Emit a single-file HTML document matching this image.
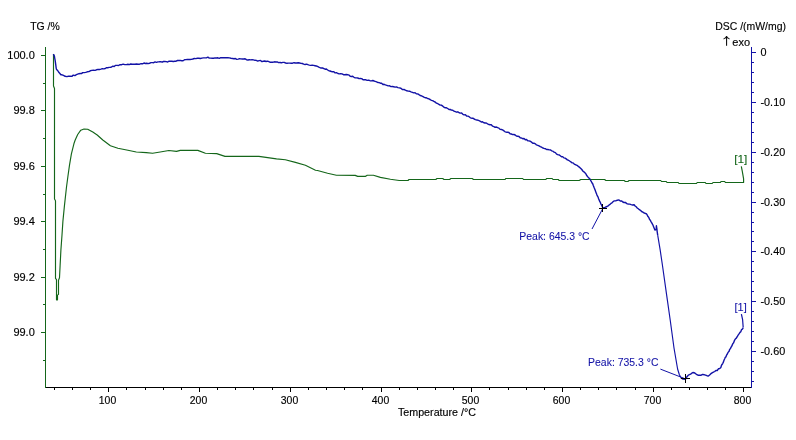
<!DOCTYPE html>
<html><head><meta charset="utf-8"><title>TG / DSC</title>
<style>
html,body{margin:0;padding:0;background:#fff;}
body{width:796px;height:440px;overflow:hidden;}
svg{display:block;}
text{font-family:"Liberation Sans",sans-serif;font-size:11px;}
</style></head><body>
<svg width="796" height="440" viewBox="0 0 796 440">
<rect x="0" y="0" width="796" height="440" fill="#fff"/>
<g shape-rendering="crispEdges" fill="none" stroke-width="1">
<line x1="45.5" y1="47" x2="45.5" y2="388" stroke="#14661a"/>
<line x1="41" y1="55.5" x2="45" y2="55.5" stroke="#14661a"/>
<line x1="43" y1="83.5" x2="45" y2="83.5" stroke="#14661a"/>
<line x1="41" y1="110.5" x2="45" y2="110.5" stroke="#14661a"/>
<line x1="43" y1="138.5" x2="45" y2="138.5" stroke="#14661a"/>
<line x1="41" y1="166.5" x2="45" y2="166.5" stroke="#14661a"/>
<line x1="43" y1="194.5" x2="45" y2="194.5" stroke="#14661a"/>
<line x1="41" y1="221.5" x2="45" y2="221.5" stroke="#14661a"/>
<line x1="43" y1="249.5" x2="45" y2="249.5" stroke="#14661a"/>
<line x1="41" y1="277.5" x2="45" y2="277.5" stroke="#14661a"/>
<line x1="43" y1="304.5" x2="45" y2="304.5" stroke="#14661a"/>
<line x1="41" y1="332.5" x2="45" y2="332.5" stroke="#14661a"/>
<line x1="43" y1="360.5" x2="45" y2="360.5" stroke="#14661a"/>
<line x1="751.5" y1="47" x2="751.5" y2="388" stroke="#1212a6"/>
<line x1="752" y1="52.5" x2="756" y2="52.5" stroke="#1212a6"/>
<line x1="752" y1="62.5" x2="754" y2="62.5" stroke="#1212a6"/>
<line x1="752" y1="72.5" x2="754" y2="72.5" stroke="#1212a6"/>
<line x1="752" y1="82.5" x2="754" y2="82.5" stroke="#1212a6"/>
<line x1="752" y1="92.5" x2="754" y2="92.5" stroke="#1212a6"/>
<line x1="752" y1="102.5" x2="756" y2="102.5" stroke="#1212a6"/>
<line x1="752" y1="112.5" x2="754" y2="112.5" stroke="#1212a6"/>
<line x1="752" y1="122.5" x2="754" y2="122.5" stroke="#1212a6"/>
<line x1="752" y1="132.5" x2="754" y2="132.5" stroke="#1212a6"/>
<line x1="752" y1="142.5" x2="754" y2="142.5" stroke="#1212a6"/>
<line x1="752" y1="152.5" x2="756" y2="152.5" stroke="#1212a6"/>
<line x1="752" y1="162.5" x2="754" y2="162.5" stroke="#1212a6"/>
<line x1="752" y1="172.5" x2="754" y2="172.5" stroke="#1212a6"/>
<line x1="752" y1="182.5" x2="754" y2="182.5" stroke="#1212a6"/>
<line x1="752" y1="192.5" x2="754" y2="192.5" stroke="#1212a6"/>
<line x1="752" y1="202.5" x2="756" y2="202.5" stroke="#1212a6"/>
<line x1="752" y1="212.5" x2="754" y2="212.5" stroke="#1212a6"/>
<line x1="752" y1="222.5" x2="754" y2="222.5" stroke="#1212a6"/>
<line x1="752" y1="231.5" x2="754" y2="231.5" stroke="#1212a6"/>
<line x1="752" y1="241.5" x2="754" y2="241.5" stroke="#1212a6"/>
<line x1="752" y1="251.5" x2="756" y2="251.5" stroke="#1212a6"/>
<line x1="752" y1="261.5" x2="754" y2="261.5" stroke="#1212a6"/>
<line x1="752" y1="271.5" x2="754" y2="271.5" stroke="#1212a6"/>
<line x1="752" y1="281.5" x2="754" y2="281.5" stroke="#1212a6"/>
<line x1="752" y1="291.5" x2="754" y2="291.5" stroke="#1212a6"/>
<line x1="752" y1="301.5" x2="756" y2="301.5" stroke="#1212a6"/>
<line x1="752" y1="311.5" x2="754" y2="311.5" stroke="#1212a6"/>
<line x1="752" y1="321.5" x2="754" y2="321.5" stroke="#1212a6"/>
<line x1="752" y1="331.5" x2="754" y2="331.5" stroke="#1212a6"/>
<line x1="752" y1="341.5" x2="754" y2="341.5" stroke="#1212a6"/>
<line x1="752" y1="351.5" x2="756" y2="351.5" stroke="#1212a6"/>
<line x1="752" y1="361.5" x2="754" y2="361.5" stroke="#1212a6"/>
<line x1="752" y1="371.5" x2="754" y2="371.5" stroke="#1212a6"/>
<line x1="752" y1="381.5" x2="754" y2="381.5" stroke="#1212a6"/>
<line x1="46" y1="387.5" x2="751" y2="387.5" stroke="#000"/>
<line x1="54.5" y1="388" x2="54.5" y2="390" stroke="#000"/>
<line x1="72.5" y1="388" x2="72.5" y2="390" stroke="#000"/>
<line x1="90.5" y1="388" x2="90.5" y2="390" stroke="#000"/>
<line x1="108.5" y1="388" x2="108.5" y2="392" stroke="#000"/>
<line x1="126.5" y1="388" x2="126.5" y2="390" stroke="#000"/>
<line x1="145.5" y1="388" x2="145.5" y2="390" stroke="#000"/>
<line x1="163.5" y1="388" x2="163.5" y2="390" stroke="#000"/>
<line x1="181.5" y1="388" x2="181.5" y2="390" stroke="#000"/>
<line x1="199.5" y1="388" x2="199.5" y2="392" stroke="#000"/>
<line x1="217.5" y1="388" x2="217.5" y2="390" stroke="#000"/>
<line x1="235.5" y1="388" x2="235.5" y2="390" stroke="#000"/>
<line x1="253.5" y1="388" x2="253.5" y2="390" stroke="#000"/>
<line x1="272.5" y1="388" x2="272.5" y2="390" stroke="#000"/>
<line x1="290.5" y1="388" x2="290.5" y2="392" stroke="#000"/>
<line x1="308.5" y1="388" x2="308.5" y2="390" stroke="#000"/>
<line x1="326.5" y1="388" x2="326.5" y2="390" stroke="#000"/>
<line x1="344.5" y1="388" x2="344.5" y2="390" stroke="#000"/>
<line x1="362.5" y1="388" x2="362.5" y2="390" stroke="#000"/>
<line x1="381.5" y1="388" x2="381.5" y2="392" stroke="#000"/>
<line x1="399.5" y1="388" x2="399.5" y2="390" stroke="#000"/>
<line x1="417.5" y1="388" x2="417.5" y2="390" stroke="#000"/>
<line x1="435.5" y1="388" x2="435.5" y2="390" stroke="#000"/>
<line x1="453.5" y1="388" x2="453.5" y2="390" stroke="#000"/>
<line x1="471.5" y1="388" x2="471.5" y2="392" stroke="#000"/>
<line x1="489.5" y1="388" x2="489.5" y2="390" stroke="#000"/>
<line x1="508.5" y1="388" x2="508.5" y2="390" stroke="#000"/>
<line x1="526.5" y1="388" x2="526.5" y2="390" stroke="#000"/>
<line x1="544.5" y1="388" x2="544.5" y2="390" stroke="#000"/>
<line x1="562.5" y1="388" x2="562.5" y2="392" stroke="#000"/>
<line x1="580.5" y1="388" x2="580.5" y2="390" stroke="#000"/>
<line x1="598.5" y1="388" x2="598.5" y2="390" stroke="#000"/>
<line x1="616.5" y1="388" x2="616.5" y2="390" stroke="#000"/>
<line x1="635.5" y1="388" x2="635.5" y2="390" stroke="#000"/>
<line x1="653.5" y1="388" x2="653.5" y2="392" stroke="#000"/>
<line x1="671.5" y1="388" x2="671.5" y2="390" stroke="#000"/>
<line x1="689.5" y1="388" x2="689.5" y2="390" stroke="#000"/>
<line x1="707.5" y1="388" x2="707.5" y2="390" stroke="#000"/>
<line x1="725.5" y1="388" x2="725.5" y2="390" stroke="#000"/>
<line x1="743.5" y1="388" x2="743.5" y2="392" stroke="#000"/>
</g>
<polyline fill="none" stroke="#14661a" stroke-width="1.15" stroke-linejoin="round" points="53.5,54.0 53.5,86.0 54.5,88.5 54.5,140.0 54.5,185.0 54.5,199.0 55.5,200.7 55.5,278.3 56.5,279.6 56.5,299.8 57.5,299.8 57.5,295.1 58.5,294.4 58.5,280.2 59.5,277.7 60.1,265.8 60.9,250.1 62.0,235.0 62.9,221.4 64.5,205.1 66.5,187.0 67.9,176.5 69.5,165.2 71.4,153.8 73.9,143.8 75.2,140.0 77.7,134.5 80.8,130.2 84.0,129.0 87.7,129.2 92.8,132.1 97.2,135.0 102.8,140.0 110.4,145.7 117.9,148.2 127.9,150.3 136.3,152.0 146.3,152.6 152.6,153.3 160.2,152.0 168.9,150.5 176.5,151.4 180.3,150.4 197.8,150.4 205.4,153.3 216.7,153.6 225.0,156.4 258.9,156.4 267.7,157.6 276.5,158.9 285.3,159.8 295.4,162.4 305.4,165.2 315.5,170.2 317.5,170.5 327.6,173.3 336.4,175.2 355.2,175.4 357.7,176.4 365.3,176.4 367.2,175.2 373.4,175.2 380.4,177.4 390.4,179.2 399.2,180.5 408.0,180.5 409.0,179.5 435.8,179.5 437.0,178.5 442.7,178.5 444.0,179.5 449.6,179.5 450.9,178.5 472.2,178.5 473.5,179.5 505.1,179.5 505.7,178.5 522.7,178.5 523.5,179.5 545.9,179.5 546.5,178.5 552.2,178.5 553.0,179.5 558.5,179.5 559.0,180.5 579.2,180.5 580.8,179.5 604.6,179.5 605.9,180.5 624.1,180.5 625.4,181.5 627.9,181.5 629.1,180.5 660.7,180.5 661.5,181.5 666.3,181.5 667.0,182.5 678.3,182.5 679.0,183.5 696.5,183.5 697.2,182.5 705.3,182.5 706.0,183.5 712.2,183.5 713.0,182.5 720.4,182.5 721.0,181.5 724.7,181.5 725.4,182.5 743.6,182.5 743.6,178.9 742.3,171.4 741.3,166.4"/>
<polyline fill="none" stroke="#1212a6" stroke-width="1.4" stroke-linejoin="round" points="53.4,54.1 54.4,56.1 54.7,58.0 55.0,59.7 55.3,61.4 55.5,62.9 55.7,64.4 55.9,65.9 56.1,67.4 56.3,68.9 57.1,70.1 58.0,71.0 58.8,72.3 59.9,73.5 60.9,74.7 62.0,74.8 63.5,75.4 65.1,76.3 66.8,76.6 68.5,76.3 70.2,76.1 71.8,76.4 73.3,75.1 74.9,75.6 76.4,74.7 77.7,74.1 78.9,73.7 80.2,73.5 81.4,73.6 82.7,72.6 84.2,72.6 85.7,72.4 87.3,71.8 88.8,71.6 90.3,70.8 91.8,70.4 93.4,70.3 95.0,70.4 96.5,69.8 98.0,69.4 99.4,69.5 100.9,69.1 102.4,68.6 103.8,68.9 105.3,68.5 106.6,67.7 107.8,67.7 109.1,67.4 110.3,67.4 111.6,67.0 112.9,66.2 114.1,66.6 115.4,65.4 117.0,65.4 118.6,65.5 120.1,64.6 121.7,64.7 123.2,64.1 124.8,64.6 126.4,64.6 127.9,64.3 129.3,64.6 130.7,64.0 132.2,64.3 133.6,64.2 135.0,64.2 136.5,64.0 138.0,64.2 139.6,64.2 141.1,63.7 142.6,63.8 144.0,63.0 145.4,63.5 146.8,63.3 148.2,63.6 149.5,63.3 150.9,62.6 152.3,62.6 153.7,62.7 155.1,61.9 156.5,62.3 157.9,61.9 159.3,61.8 160.7,61.6 162.1,62.2 163.5,61.5 164.9,61.5 166.3,61.6 167.7,62.0 169.1,61.1 170.5,61.3 171.9,61.3 173.3,61.5 174.7,61.3 176.1,61.2 177.5,60.5 178.9,60.5 180.3,60.4 181.7,60.7 183.1,60.7 184.5,59.7 185.9,59.6 187.2,59.5 188.6,59.4 190.0,59.5 191.4,59.4 192.8,59.0 194.3,58.5 195.8,58.6 197.4,58.3 198.9,58.3 200.4,58.5 201.9,58.1 203.4,57.9 204.9,57.9 206.4,57.9 207.9,57.2 209.3,58.1 210.8,58.1 212.2,58.2 213.6,58.2 215.0,57.9 216.5,58.0 217.9,57.8 219.3,58.3 220.7,57.7 222.1,57.6 223.5,57.7 224.9,57.6 226.3,57.7 227.9,57.7 229.4,57.9 231.0,58.3 232.6,58.5 234.0,58.8 235.4,58.5 236.8,59.4 238.2,59.1 239.5,58.7 240.9,58.9 242.3,59.0 243.7,59.0 245.1,58.8 246.5,59.7 247.9,60.0 249.3,59.7 250.7,59.9 252.1,59.7 253.5,59.9 254.9,60.3 256.3,60.4 257.7,61.1 259.1,60.6 260.5,60.5 261.9,61.6 263.3,61.3 264.7,61.0 266.1,61.5 267.5,61.1 268.9,61.7 270.3,62.3 271.7,62.3 273.1,62.2 274.5,61.8 275.9,62.0 277.2,61.9 278.6,62.6 280.0,62.5 281.4,62.8 282.8,62.4 284.2,62.4 285.6,63.0 287.0,63.2 288.4,63.1 289.8,63.1 291.2,63.2 292.6,63.2 294.0,62.7 295.4,63.0 296.8,63.0 298.2,62.8 299.6,63.0 301.0,63.4 302.3,63.5 303.7,64.1 305.1,64.5 306.5,64.1 307.9,64.7 309.3,65.1 310.7,65.4 312.2,65.2 313.6,65.4 315.0,65.7 316.3,66.0 317.5,66.4 318.8,67.1 320.1,67.7 321.3,68.0 322.6,68.0 323.9,68.6 325.1,69.2 326.4,69.0 327.6,70.0 328.9,70.7 330.1,71.0 331.4,71.5 332.6,71.7 333.9,71.8 335.1,72.9 336.5,72.7 337.9,73.5 339.3,73.9 340.7,73.6 342.1,73.9 343.5,74.7 344.9,74.8 346.3,74.5 347.7,74.7 349.0,75.1 350.2,76.3 351.5,76.5 352.7,76.3 354.0,77.3 355.3,77.9 356.5,77.9 357.8,78.0 359.0,78.6 360.3,78.5 361.7,78.6 363.1,79.8 364.5,79.7 365.9,79.8 367.2,80.4 368.6,80.1 370.0,80.7 371.4,80.9 372.8,80.5 374.1,81.0 375.3,81.4 376.6,81.8 377.8,82.5 379.1,82.6 380.4,83.2 381.6,83.3 382.9,84.5 384.1,84.3 385.4,84.9 386.8,85.3 388.2,85.9 389.6,85.8 391.0,86.6 392.3,86.5 393.7,86.8 395.1,87.1 396.5,86.9 397.9,87.6 399.4,87.9 400.9,88.3 402.5,89.6 404.0,89.5 405.4,90.2 406.8,90.8 408.2,91.1 409.6,91.2 411.0,91.8 412.4,92.3 413.8,92.9 415.1,92.7 416.3,93.7 417.6,93.9 418.8,94.5 420.1,95.5 421.4,95.8 422.6,96.3 423.9,97.1 425.1,97.7 426.4,97.8 427.6,98.5 428.9,98.9 430.1,99.5 431.4,100.3 432.6,100.7 433.9,101.4 435.1,102.0 436.4,103.1 437.6,103.5 438.9,104.3 440.2,105.1 441.4,105.1 442.7,106.1 443.9,107.2 445.2,107.8 446.5,107.8 447.7,108.5 449.0,109.5 450.3,109.5 451.5,110.1 452.8,110.3 454.0,111.2 455.3,111.7 456.6,112.2 457.8,111.8 459.1,112.8 460.3,113.1 461.6,112.9 462.9,114.3 464.1,114.9 465.4,114.7 466.6,116.0 467.9,116.1 469.1,116.7 470.4,117.8 471.6,118.2 472.9,118.1 474.1,119.0 475.4,119.6 476.9,120.0 478.5,120.4 480.0,121.1 481.3,122.0 482.5,121.7 483.8,122.7 485.0,123.0 486.3,123.0 487.6,123.8 488.8,124.5 490.1,124.8 491.3,124.8 492.6,126.2 493.9,126.6 495.1,127.3 496.4,127.0 497.6,127.7 498.9,128.1 500.1,129.4 501.4,129.5 502.6,129.9 503.9,130.8 505.1,131.8 506.4,132.2 507.6,132.2 508.9,132.5 510.1,133.8 511.4,134.0 512.7,134.6 513.9,134.5 515.2,135.0 516.4,136.1 517.7,136.3 519.0,136.5 520.2,137.8 521.5,138.0 522.7,138.7 524.0,138.5 525.3,139.8 526.5,139.5 527.8,140.8 529.0,140.9 530.3,141.2 531.5,142.1 532.8,143.2 534.0,143.2 535.3,143.8 536.5,144.9 537.8,145.3 539.0,145.8 540.3,146.6 541.5,147.2 542.8,148.0 544.1,148.4 545.3,148.7 546.6,149.5 547.9,149.4 549.1,149.9 550.4,149.9 551.6,150.8 552.9,151.2 554.1,152.2 555.4,152.6 556.6,154.1 557.9,154.7 559.1,154.9 560.3,155.8 561.5,156.8 562.7,156.6 563.9,157.9 565.1,158.1 566.2,158.9 567.4,159.9 568.5,160.2 569.6,161.0 570.8,161.8 571.9,162.8 573.1,162.9 574.2,164.1 575.3,164.6 576.5,165.2 577.6,165.7 578.6,166.7 579.7,167.4 580.8,168.5 581.8,169.5 582.9,171.2 583.9,171.8 584.9,172.8 585.9,173.9 586.9,175.8 587.9,176.9 588.9,177.9 589.7,178.7 590.4,180.0 591.2,181.3 591.9,182.7 592.7,183.7 593.2,185.3 593.7,186.5 594.2,187.8 594.7,189.0 595.2,190.3 595.8,191.9 596.4,193.5 597.0,195.1 597.5,196.2 598.1,197.1 598.6,198.8 599.2,200.1 599.7,201.4 600.3,202.3 600.8,203.9 601.5,204.9 602.2,206.6 602.9,207.9 604.3,207.8 605.7,207.0 607.1,206.5 608.1,205.9 609.1,204.9 610.1,204.4 611.0,203.4 612.0,202.8 613.0,201.8 614.0,200.9 615.7,200.9 617.3,200.2 619.0,199.9 620.3,201.1 621.5,200.9 622.8,202.0 624.0,202.5 625.3,202.4 626.8,203.6 628.2,204.0 629.7,204.1 631.2,204.6 632.6,205.0 634.1,204.7 635.1,206.0 636.2,206.8 637.2,208.0 638.3,208.8 639.4,209.7 640.4,210.3 641.6,211.5 642.9,212.1 644.1,213.0 645.4,213.4 646.6,214.0 647.3,215.2 648.0,216.6 648.8,217.4 649.5,219.2 650.2,220.1 651.0,221.6 651.9,223.1 652.7,224.6 653.2,225.8 653.8,227.2 654.4,228.7 654.9,230.1 656.2,229.4 656.3,227.6 656.4,225.7 656.6,227.0 656.8,228.4 657.0,229.7 657.1,231.1 657.3,232.4 657.5,233.8 657.7,235.1"/>
<polyline fill="none" stroke="#1212a6" stroke-width="1.15" stroke-linejoin="round" points="657.7,235.1 660.2,250.2 662.4,265.0 667.3,299.6 670.2,320.0 674.0,348.0 677.6,369.0 679.3,374.5 680.8,377.6"/>
<polyline fill="none" stroke="#1212a6" stroke-width="1.4" stroke-linejoin="round" points="680.8,377.6 683.0,379.1 685.5,379.2 686.4,377.5 687.4,376.2 688.3,375.2 689.4,374.7 690.6,374.1 691.8,373.2 692.9,372.5 694.1,372.7 695.2,373.4 696.4,374.3 698.0,375.2 699.6,375.2 701.2,375.2 702.7,374.4 704.1,374.7 705.5,375.1 707.0,375.7 708.4,376.0 709.6,375.0 710.9,373.7 712.1,372.9 713.4,372.2 714.7,371.5 715.9,370.4 717.2,370.5 718.4,368.8 719.7,368.5 720.9,367.4 721.5,365.2 722.2,364.3 722.8,363.3 723.4,362.1 724.0,360.2 724.7,358.7 725.3,357.3 725.9,356.9 726.6,355.0 727.2,354.3 727.9,352.7 728.5,351.9 729.1,351.2 729.7,349.2 730.4,348.7 731.0,347.2 731.6,346.5 732.2,345.1 732.9,343.5 733.5,343.0 734.1,341.4 734.8,339.8 735.6,338.7 736.3,338.1 737.0,337.0 737.7,335.8 738.5,334.5 739.2,333.6 740.0,332.4 740.8,331.7 741.6,329.6 742.4,329.1 743.2,327.9"/>
<polyline fill="none" stroke="#1212a6" stroke-width="1.2" points="743.2,327.6 742.6,319.5 741.4,314.1"/>
<line x1="602.9" y1="208.3" x2="592" y2="229" stroke="#1212a6" stroke-width="1"/>
<line x1="685" y1="378.7" x2="660.4" y2="369.1" stroke="#1212a6" stroke-width="1"/>
<g shape-rendering="crispEdges" stroke="#000" stroke-width="1">
<line x1="599" y1="208.5" x2="607" y2="208.5"/><line x1="602.5" y1="204" x2="602.5" y2="212"/>
<line x1="681" y1="378.5" x2="690" y2="378.5"/><line x1="685.5" y1="374" x2="685.5" y2="383"/>
</g>
<text transform="translate(30.2,30) scale(0.95,1)" text-anchor="start" fill="#000" stroke="#000" stroke-width="0.15">TG /%</text>
<text transform="translate(715.2,30) scale(0.95,1)" text-anchor="start" fill="#000" stroke="#000" stroke-width="0.15">DSC /(mW/mg)</text>
<text transform="translate(726.5,45.4) scale(1.3,1)" text-anchor="middle" style="font-family:&quot;Noto Sans CJK JP&quot;,&quot;DejaVu Sans&quot;,sans-serif;font-size:10.5px" stroke="#000" stroke-width="0.1">↑</text>
<text transform="translate(732.3,46) scale(1.0,1)" text-anchor="start" fill="#000" stroke="#000" stroke-width="0.15">exo</text>
<text transform="translate(34.8,59) scale(1.0,1)" text-anchor="end" fill="#000" stroke="#000" stroke-width="0.15">100.0</text>
<text transform="translate(34.8,114) scale(1.0,1)" text-anchor="end" fill="#000" stroke="#000" stroke-width="0.15">99.8</text>
<text transform="translate(34.8,170) scale(1.0,1)" text-anchor="end" fill="#000" stroke="#000" stroke-width="0.15">99.6</text>
<text transform="translate(34.8,225) scale(1.0,1)" text-anchor="end" fill="#000" stroke="#000" stroke-width="0.15">99.4</text>
<text transform="translate(34.8,281) scale(1.0,1)" text-anchor="end" fill="#000" stroke="#000" stroke-width="0.15">99.2</text>
<text transform="translate(34.8,336) scale(1.0,1)" text-anchor="end" fill="#000" stroke="#000" stroke-width="0.15">99.0</text>
<text transform="translate(760.5,56) scale(0.985,1)" text-anchor="start" fill="#000" stroke="#000" stroke-width="0.15">0</text>
<text transform="translate(760.5,106) scale(0.985,1)" text-anchor="start" fill="#000" stroke="#000" stroke-width="0.15">-0.10</text>
<text transform="translate(760.5,156) scale(0.985,1)" text-anchor="start" fill="#000" stroke="#000" stroke-width="0.15">-0.20</text>
<text transform="translate(760.5,206) scale(0.985,1)" text-anchor="start" fill="#000" stroke="#000" stroke-width="0.15">-0.30</text>
<text transform="translate(760.5,255) scale(0.985,1)" text-anchor="start" fill="#000" stroke="#000" stroke-width="0.15">-0.40</text>
<text transform="translate(760.5,305) scale(0.985,1)" text-anchor="start" fill="#000" stroke="#000" stroke-width="0.15">-0.50</text>
<text transform="translate(760.5,355) scale(0.985,1)" text-anchor="start" fill="#000" stroke="#000" stroke-width="0.15">-0.60</text>
<text transform="translate(107.5,404) scale(0.95,1)" text-anchor="middle" fill="#000" stroke="#000" stroke-width="0.15">100</text>
<text transform="translate(198.5,404) scale(0.95,1)" text-anchor="middle" fill="#000" stroke="#000" stroke-width="0.15">200</text>
<text transform="translate(289.5,404) scale(0.95,1)" text-anchor="middle" fill="#000" stroke="#000" stroke-width="0.15">300</text>
<text transform="translate(380.5,404) scale(0.95,1)" text-anchor="middle" fill="#000" stroke="#000" stroke-width="0.15">400</text>
<text transform="translate(470.5,404) scale(0.95,1)" text-anchor="middle" fill="#000" stroke="#000" stroke-width="0.15">500</text>
<text transform="translate(561.5,404) scale(0.95,1)" text-anchor="middle" fill="#000" stroke="#000" stroke-width="0.15">600</text>
<text transform="translate(652.5,404) scale(0.95,1)" text-anchor="middle" fill="#000" stroke="#000" stroke-width="0.15">700</text>
<text transform="translate(742.5,404) scale(0.95,1)" text-anchor="middle" fill="#000" stroke="#000" stroke-width="0.15">800</text>
<text transform="translate(397.9,416) scale(0.975,1)" text-anchor="start" fill="#000" stroke="#000" stroke-width="0.15">Temperature /°C</text>
<text transform="translate(519.3,239.7) scale(0.95,1)" text-anchor="start" fill="#1212a6" stroke="#1212a6" stroke-width="0.08">Peak: 645.3 °C</text>
<text transform="translate(588.1,365.8) scale(0.95,1)" text-anchor="start" fill="#1212a6" stroke="#1212a6" stroke-width="0.08">Peak: 735.3 °C</text>
<text transform="translate(734.2,163) scale(1.08,1)" text-anchor="start" fill="#14661a" stroke="#14661a" stroke-width="0.08">[1]</text>
<text transform="translate(734.5,310.6) scale(1.0,1)" text-anchor="start" fill="#1212a6" stroke="#1212a6" stroke-width="0.08">[1]</text>
</svg>
</body></html>
